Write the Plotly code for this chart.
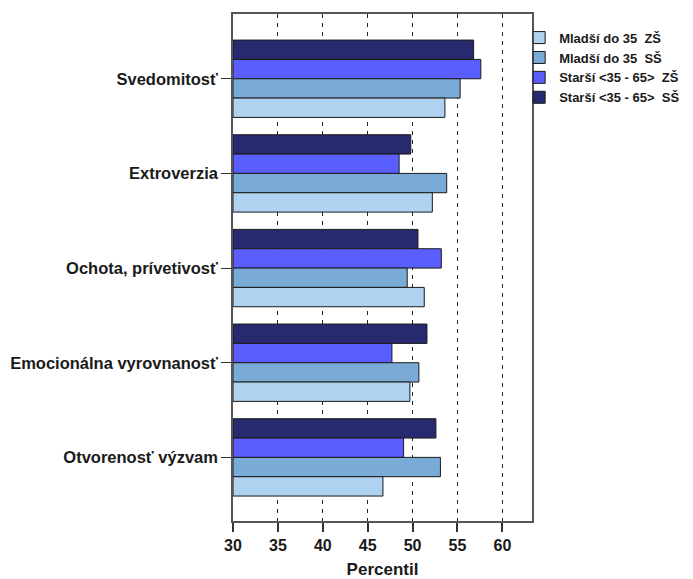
import plotly.graph_objects as go

categories = ["Svedomitosť", "Extroverzia", "Ochota, prívetivosť", "Emocionálna vyrovnanosť", "Otvorenosť výzvam"]

series_names = ["Starší <35 - 65>\u00a0 SŠ", "Starší <35 - 65>\u00a0 ZŠ", "Mladší do 35\u00a0 SŠ", "Mladší do 35\u00a0 ZŠ"]
starsi_ss = [56.8, 49.8, 50.6, 51.6, 52.6]
starsi_zs = [57.6, 48.5, 53.2, 47.7, 49.0]
mladsi_ss = [55.3, 53.8, 49.4, 50.7, 53.1]
mladsi_zs = [53.6, 52.2, 51.3, 49.7, 46.7]
colors = ["#272A6F", "#5B5EFE", "#7AAAD6", "#AED2F0"]

x_ticks = [30, 35, 40, 45, 50, 55, 60]

FONT = "Liberation Sans, Arial, sans-serif"

fig = go.Figure()
for name, vals, col in zip(series_names, [starsi_ss, starsi_zs, mladsi_ss, mladsi_zs], colors):
    fig.add_trace(go.Bar(
        y=categories, x=[v - 30 for v in vals], base=30, orientation="h", name=name,
        marker=dict(color=col, line=dict(color="#1a1a1a", width=1)),
    ))

# page body has an 8px default margin, so the figure is sized 8px smaller
fig.update_layout(
    width=685, height=571,
    margin=dict(l=225, r=161, t=6, b=58, autoexpand=False),
    paper_bgcolor="white", plot_bgcolor="white",
    barmode="group", bargap=0.183, bargroupgap=0,
    font=dict(family=FONT, size=14, color="#1a1a1a", weight="bold"),
    legend=dict(x=0.957, xanchor="left", y=0.983, yanchor="top", traceorder="reversed",
                font=dict(family=FONT, size=13, color="#1a1a1a", weight="bold"),
                bgcolor="rgba(0,0,0,0)", tracegroupgap=0, itemwidth=30),
    showlegend=True,
)
fig.update_xaxes(
    range=[30, 63.3], tickvals=x_ticks, ticktext=[str(t) for t in x_ticks],
    showgrid=True, gridcolor="#222", gridwidth=1, griddash="4px,5px",
    zeroline=False, showline=True, linecolor="#555", linewidth=1.5, mirror=True,
    ticks="outside", ticklen=9, tickcolor="#333", tickwidth=1.5,
    tickfont=dict(size=16, weight="bold"),
    title=dict(text="Percentil", font=dict(size=17, weight="bold"), standoff=16),
)
fig.update_yaxes(
    type="category", categoryorder="array", categoryarray=categories,
    range=[4.672, -0.684], showgrid=False,
    showline=True, linecolor="#555", linewidth=1.5, mirror=True,
    ticks="outside", ticklen=10, tickcolor="#333", tickwidth=1,
    tickfont=dict(size=16.5, weight="bold"),
)
fig.write_html("out.html")
